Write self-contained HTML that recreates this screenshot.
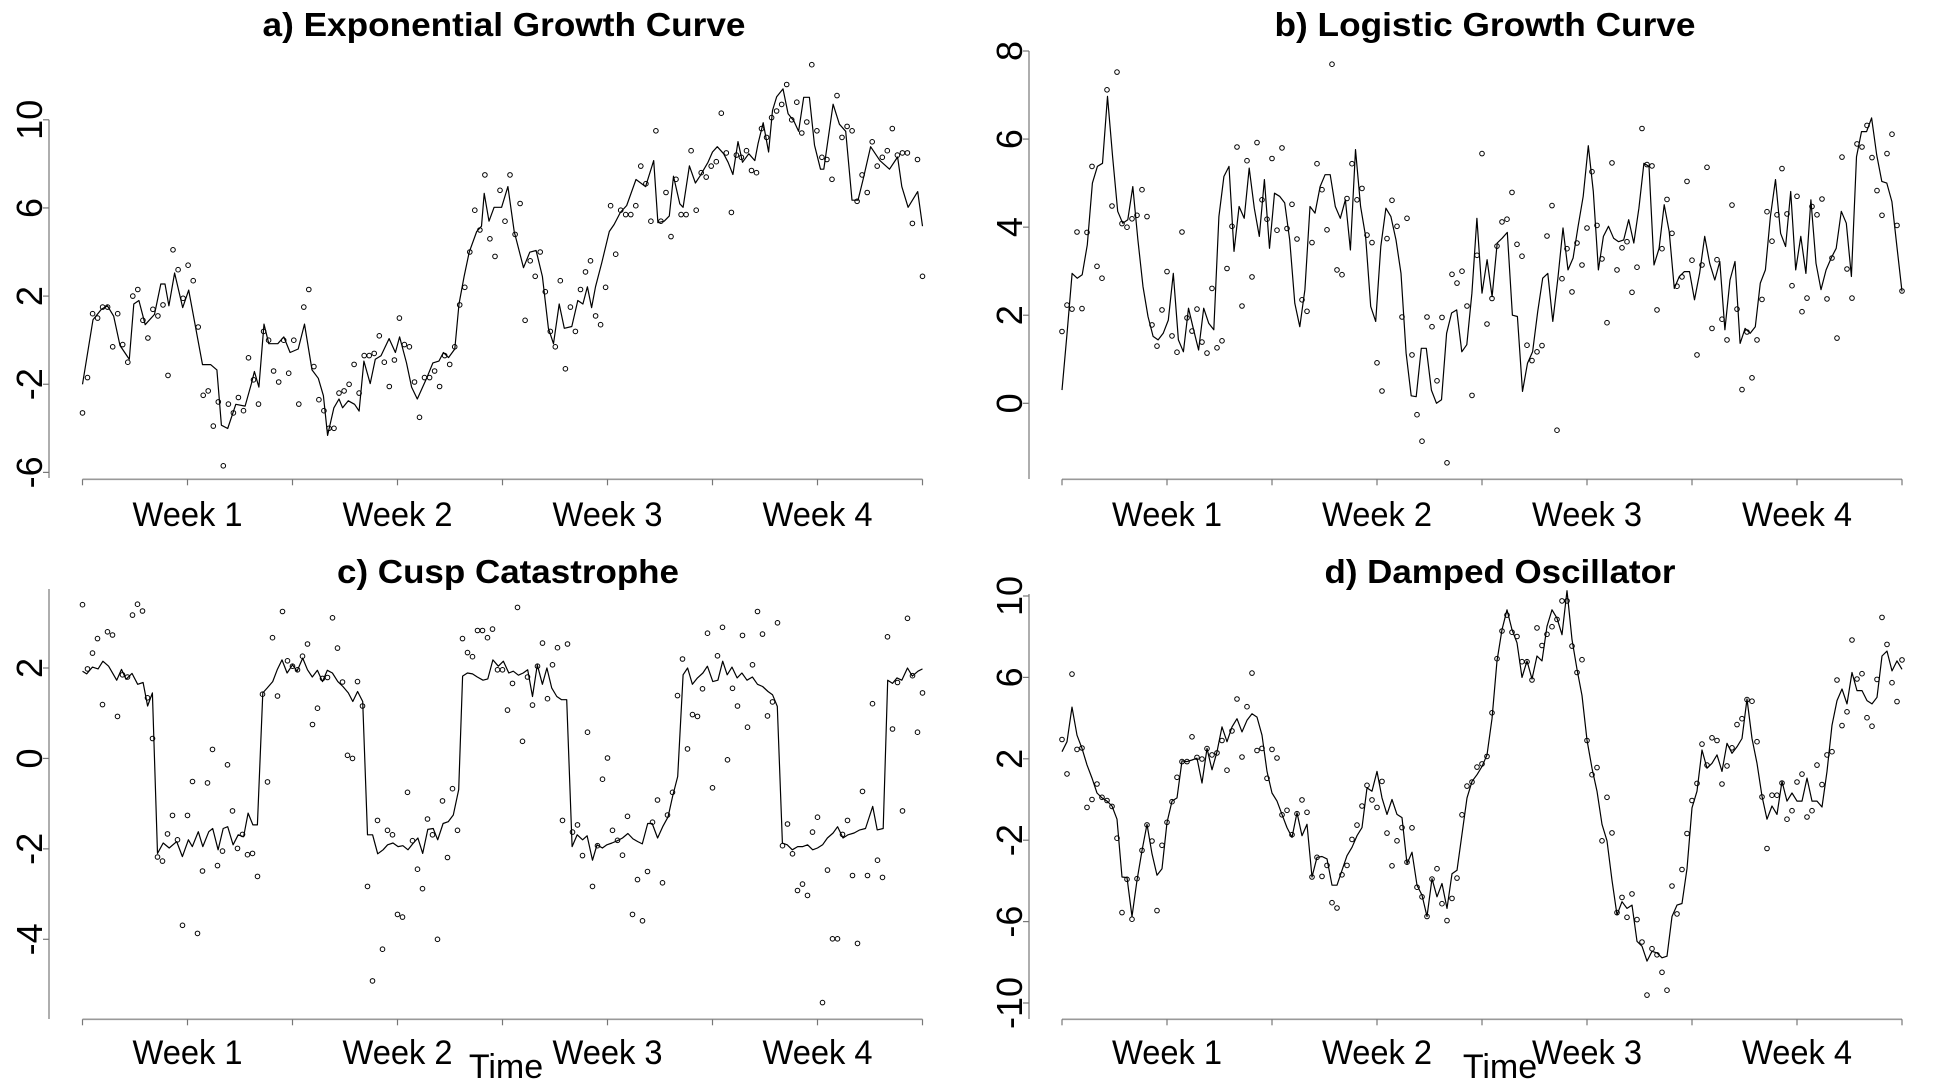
<!DOCTYPE html>
<html><head><meta charset="utf-8"><style>
html,body{margin:0;padding:0;background:#fff;}
svg{display:block;font-family:"Liberation Sans",Arial,sans-serif;}
</style></head><body>
<svg id="fig" width="1960" height="1080" viewBox="0 0 1960 1080" xmlns="http://www.w3.org/2000/svg"></svg>
<script>
const weekLabels = ["Week 1","Week 2","Week 3","Week 4"];
const weekDays = [3.5,10.5,17.5,24.5];
const totalDays = 28;

const aLineT = [0,0.35,0.63,0.83,1.04,1.25,1.56,1.71,1.88,2.09,2.40,2.61,2.75,2.88,3.07,3.34,3.54,4.0,4.27,4.48,4.63,4.84,5.11,5.42,5.63,5.73,5.88,6.05,6.21,6.51,6.71,6.92,7.19,7.40,7.65,7.86,8.03,8.17,8.38,8.55,8.67,8.86,9.07,9.22,9.38,9.59,9.76,9.95,10.22,10.43,10.57,10.80,10.97,11.16,11.47,11.68,11.88,12.03,12.20,12.41,12.55,12.72,12.89,13.14,13.30,13.39,13.55,13.72,13.97,14.18,14.39,14.70,14.91,15.12,15.33,15.53,15.70,15.89,16.06,16.31,16.51,16.68,16.83,16.97,17.10,17.31,17.56,17.72,17.93,18.14,18.45,18.77,19.04,19.18,19.39,19.56,19.70,19.91,20.02,20.23,20.43,20.58,20.85,21.0,21.16,21.37,21.52,21.68,21.85,22.0,22.21,22.41,22.52,22.69,22.87,23.0,23.14,23.35,23.52,23.71,23.87,24.04,24.23,24.40,24.60,24.71,25.02,25.23,25.44,25.65,25.85,26.02,26.27,26.58,26.90,27.17,27.31,27.52,27.84,28];
const aLineV = [-2.0,0.93,1.40,1.56,1.09,-0.24,-0.87,1.64,1.80,0.70,1.17,2.55,2.55,1.56,3.05,1.48,2.27,-1.11,-1.11,-1.35,-3.86,-4.01,-2.91,-2.99,-1.97,-1.42,-2.13,0.73,-0.16,-0.16,0.15,-0.56,-0.40,0.73,-1.35,-1.73,-2.52,-4.32,-3.07,-2.67,-3.07,-2.75,-2.91,-3.22,-0.95,-1.97,-0.87,-0.71,0.07,-0.56,0.15,-1.03,-2.13,-2.67,-1.73,-1.03,-0.95,-0.56,-0.79,-0.40,1.64,2.89,3.99,4.93,5.17,6.66,5.40,6.03,6.03,6.97,4.93,3.29,3.99,4.07,2.89,0.54,-0.16,1.64,0.54,0.62,1.80,1.64,2.42,1.48,2.42,3.52,4.93,5.25,5.80,6.11,7.29,6.97,8.15,5.33,5.40,5.64,7.44,6.19,6.03,7.91,7.13,7.44,8.07,8.54,8.78,8.46,8.07,7.52,9.01,8.07,8.46,8.15,8.93,9.87,8.54,10.42,11.05,11.40,10.27,9.95,9.48,11.02,11.02,8.85,7.76,7.76,10.71,9.80,9.48,6.35,6.35,7.29,8.78,8.15,7.76,8.31,6.97,6.03,6.74,5.17];
const aDots = [-3.3,-1.7,1.2,1.0,1.5,1.5,-0.3,1.2,-0.2,-1.0,2.0,2.3,0.9,0.1,1.4,1.1,1.6,-1.6,4.1,3.2,1.9,3.4,2.7,0.6,-2.5,-2.3,-3.9,-2.8,-5.7,-2.9,-3.3,-2.6,-3.2,-0.8,-1.8,-2.9,0.4,0.0,-1.4,-1.9,0.0,-1.5,0.0,-2.9,1.5,2.3,-1.2,-2.7,-3.2,-4.0,-4.0,-2.4,-2.3,-2.0,-1.1,-2.4,-0.7,-0.7,-0.6,0.2,-1.0,-2.1,-0.9,1.0,-0.2,-0.3,-1.9,-3.5,-1.7,-1.7,-1.4,-2.1,-0.7,-1.1,-0.3,1.6,2.4,4.0,5.9,5.0,7.5,4.6,3.8,6.8,5.4,7.5,4.8,6.2,0.9,3.6,2.9,4.0,2.2,0.4,-0.3,2.7,-1.3,1.5,0.4,2.3,3.1,3.6,1.1,0.7,2.4,6.1,3.9,5.9,5.7,5.7,6.1,7.9,7.1,5.4,9.5,5.4,6.7,4.7,7.3,5.7,5.7,8.6,5.9,7.6,7.4,7.9,8.1,10.3,8.5,5.8,8.4,8.3,8.6,7.7,7.6,9.6,9.2,10.1,10.4,10.7,11.6,10.0,10.8,9.4,9.9,12.5,9.5,8.3,8.2,7.3,11.1,9.2,9.7,9.5,6.3,7.5,6.7,9.0,7.9,8.3,8.6,9.6,8.4,8.5,8.5,5.3,8.2,2.9];

const bLine = [0.3,1.6,2.95,2.84,2.92,3.6,5.0,5.38,5.45,6.97,5.6,4.36,4.09,4.17,4.92,3.71,2.65,1.97,1.52,1.44,1.59,1.89,2.95,1.44,1.17,2.16,1.67,1.21,2.16,1.82,1.67,4.24,5.15,5.38,3.45,4.47,4.2,5.34,4.43,3.79,5.08,3.52,4.77,4.7,4.55,3.71,2.27,1.74,2.58,4.47,4.32,4.92,5.19,5.19,4.47,4.2,4.62,3.48,5.76,4.47,3.79,2.2,1.86,3.56,4.43,4.24,3.71,2.95,1.14,0.17,0.15,1.25,1.25,0.3,0.0,0.08,1.59,2.05,2.12,1.17,1.33,2.5,4.2,2.5,3.26,2.42,3.64,3.75,3.88,2.0,1.97,0.27,0.91,1.17,2.08,2.84,2.95,1.86,2.84,3.98,3.03,3.3,4.02,4.7,5.85,4.81,3.03,3.79,4.02,3.75,3.67,3.71,4.17,3.64,4.43,5.45,5.38,3.14,3.52,4.51,3.9,2.61,2.88,2.99,2.99,2.35,2.95,3.79,3.18,2.8,3.22,1.67,2.8,3.22,1.36,1.7,1.59,1.74,2.73,3.03,4.24,5.08,3.86,3.56,4.81,3.03,3.79,2.95,4.62,3.18,2.58,3.03,3.3,3.52,4.36,4.09,2.88,5.6,6.17,6.17,6.48,5.64,5.04,5.0,4.58,3.56,2.54];
const bDots = [1.63,2.23,2.14,3.89,2.15,3.88,5.38,3.11,2.84,7.12,4.48,7.52,4.08,4.0,4.19,4.27,4.85,4.24,1.78,1.3,2.12,2.99,1.53,1.16,3.89,1.94,1.64,2.14,1.39,1.14,2.61,1.26,1.42,3.06,4.02,5.82,2.21,5.51,2.87,5.92,4.62,4.18,5.56,3.93,5.8,3.97,4.52,3.73,2.35,2.09,3.65,5.44,4.85,3.94,7.7,3.03,2.92,4.65,5.44,4.62,4.88,3.82,3.65,0.92,0.28,3.74,4.61,4.02,1.96,4.2,1.1,-0.26,-0.86,1.96,1.74,0.51,1.95,-1.35,2.93,2.73,3.0,2.21,0.18,3.36,5.67,1.8,2.38,3.57,4.12,4.18,4.79,3.61,3.34,1.32,0.97,1.17,1.31,3.8,4.49,-0.61,2.83,3.51,2.53,3.64,3.14,3.98,5.26,4.04,3.28,1.83,5.46,3.03,3.53,3.67,2.52,3.09,6.24,5.42,5.39,2.12,3.51,4.63,3.86,2.66,2.87,5.04,3.25,1.1,3.14,5.36,1.7,3.26,1.91,1.44,4.5,2.14,0.31,1.62,0.58,1.44,2.36,4.35,3.68,4.28,5.33,4.3,2.67,4.7,2.08,2.39,4.47,4.28,4.64,2.37,3.3,1.48,5.59,3.05,2.39,5.89,5.82,6.31,5.58,4.83,4.27,5.67,6.11,4.04,2.55];

const cLineT = [0,0.14,0.33,0.52,0.68,0.87,1.14,1.30,1.45,1.65,1.84,2.02,2.17,2.33,2.50,2.69,2.89,3.14,3.33,3.53,3.66,3.86,4.01,4.21,4.34,4.52,4.69,4.84,5.02,5.19,5.37,5.52,5.68,5.83,6.01,6.16,6.34,6.49,6.65,6.82,7.0,7.15,7.34,7.50,7.66,7.83,8.0,8.16,8.33,8.51,8.68,8.86,9.01,9.17,9.34,9.50,9.67,9.84,10.02,10.17,10.35,10.52,10.68,10.85,11.03,11.18,11.34,11.51,11.69,11.84,12.02,12.19,12.36,12.54,12.67,12.83,13.0,13.16,13.35,13.51,13.68,13.86,14.03,14.21,14.36,14.53,14.69,14.84,15.0,15.16,15.33,15.48,15.64,15.81,15.97,16.14,16.32,16.49,16.67,16.82,17.0,17.15,17.33,17.48,17.65,17.83,18.0,18.18,18.35,18.51,18.66,18.84,18.99,19.17,19.34,19.52,19.67,19.84,20.02,20.17,20.33,20.50,20.68,20.83,21.01,21.18,21.34,21.49,21.65,21.82,21.98,22.15,22.33,22.50,22.67,22.85,23.0,23.16,23.33,23.49,23.66,23.84,24.01,24.17,24.34,24.50,24.67,24.83,25.02,25.17,25.35,25.52,25.72,25.91,26.10,26.34,26.49,26.69,26.84,27.0,27.15,27.31,27.50,27.66,27.85,28.0];
const cLineV = [1.93,1.87,2.02,1.98,2.15,2.04,1.73,1.97,1.75,1.88,1.64,1.68,1.16,1.45,-2.1,-1.87,-1.98,-1.84,-2.17,-1.80,-1.95,-1.62,-1.95,-1.62,-1.55,-2.02,-1.55,-1.51,-1.91,-1.69,-1.73,-1.21,-1.47,-1.47,1.45,1.56,1.70,1.96,2.18,1.89,2.07,1.93,2.22,1.96,1.80,1.95,1.70,1.95,1.89,1.70,1.59,1.45,1.26,1.48,1.26,-1.69,-1.69,-2.11,-2.02,-1.91,-1.87,-1.95,-1.93,-2.02,-1.87,-1.76,-2.1,-1.57,-1.55,-1.80,-1.44,-1.40,-1.25,-0.69,1.82,1.89,1.87,1.80,1.73,1.76,2.18,2.04,2.15,1.89,1.93,1.84,1.89,1.96,1.37,2.07,1.64,2.0,1.56,1.37,1.30,1.30,-1.95,-1.69,-1.80,-1.71,-2.25,-1.91,-1.98,-1.91,-1.87,-1.82,-1.76,-1.66,-1.78,-1.84,-1.89,-1.44,-1.44,-1.76,-1.51,-1.29,-0.84,-0.40,1.85,2.0,1.64,1.78,1.89,2.04,1.70,1.73,2.15,1.85,2.02,1.78,1.89,1.73,1.80,1.64,1.59,1.48,1.41,1.15,-1.87,-1.91,-2.02,-1.95,-1.95,-1.91,-2.02,-1.98,-1.91,-1.76,-1.65,-1.51,-1.76,-1.69,-1.65,-1.58,-1.55,-1.06,-1.58,-1.55,1.73,1.66,1.78,1.73,2.0,1.82,1.93,1.98];
const cDots = [3.40,1.98,2.33,2.65,1.19,2.80,2.73,0.93,1.85,1.80,3.17,3.41,3.26,1.34,0.44,-2.18,-2.27,-1.67,-1.26,-1.80,-3.69,-1.26,-0.51,-3.87,-2.49,-0.54,0.20,-2.37,-2.05,-0.14,-1.16,-1.99,-1.68,-2.13,-2.10,-2.61,1.42,-0.52,2.67,1.38,3.25,2.16,2.04,1.96,2.26,2.53,0.75,1.11,1.77,1.79,3.11,2.44,1.69,0.07,0.0,1.70,1.16,-2.83,-4.92,-1.37,-4.22,-1.59,-1.69,-3.45,-3.51,-0.75,-1.82,-2.45,-2.88,-1.34,-1.69,-4.0,-0.94,-2.19,-0.67,-1.59,2.65,2.34,2.25,2.83,2.83,2.67,2.86,1.96,1.96,1.07,1.66,3.34,0.38,1.80,1.18,2.04,2.55,1.32,2.07,2.45,-1.37,2.53,-1.63,-1.47,-2.15,0.58,-2.83,-1.93,-0.46,0.01,-1.59,-1.81,-2.14,-1.28,-3.45,-2.68,-3.59,-2.50,-1.41,-0.92,-2.75,-1.25,-0.75,1.39,2.20,0.21,0.97,0.93,1.54,2.77,-0.65,2.27,2.90,-0.03,1.55,1.16,2.72,0.69,2.07,3.25,2.75,0.94,1.25,3.0,-1.93,-1.45,-2.11,-2.92,-2.78,-3.03,-1.63,-1.30,-5.40,-2.47,-3.99,-3.99,-1.68,-1.37,-2.59,-4.09,-0.73,-2.59,1.21,-2.25,-2.63,2.69,0.65,1.68,-1.16,3.10,1.83,0.58,1.45];

const dLine = [2.35,2.84,4.54,3.16,2.51,1.70,1.05,0.32,0.08,-0.08,-0.32,-0.97,-3.81,-3.84,-5.75,-3.97,-2.51,-1.22,-2.67,-3.72,-3.40,-1.13,-0.08,0.08,1.90,1.86,1.94,2.03,0.81,2.51,1.46,2.35,3.57,2.84,3.57,3.97,3.32,3.89,4.21,4.05,3.16,1.38,0.32,-0.08,-0.73,-1.38,-1.86,-0.65,-1.78,-1.22,-3.81,-2.84,-2.80,-2.92,-4.21,-4.21,-3.48,-2.76,-2.35,-1.78,-1.38,0.57,0.41,1.38,0.08,-0.73,0.0,-0.73,-0.89,-3.16,-2.59,-4.21,-4.70,-5.75,-3.89,-4.78,-4.13,-5.35,-3.65,-3.48,-1.70,0.08,0.89,1.22,1.62,2.19,3.97,6.81,8.35,9.32,8.35,7.70,6.0,6.81,5.92,7.05,6.81,8.51,9.32,8.91,8.10,10.26,7.86,6.40,5.11,2.92,1.54,0.41,-1.22,-2.03,-3.97,-5.67,-5.02,-5.35,-5.19,-6.97,-7.21,-7.94,-7.46,-7.54,-7.78,-7.70,-5.75,-5.19,-5.11,-3.40,-0.41,0.41,2.43,1.54,1.78,2.19,1.38,2.76,2.27,2.59,3.0,4.94,3.0,1.78,0.16,-0.97,-0.32,-0.73,0.89,-0.08,0.32,-0.08,-0.08,1.05,-0.08,-0.08,-0.37,1.38,3.65,4.86,5.43,4.70,6.24,5.35,5.35,4.86,4.70,5.02,7.05,7.29,6.32,6.81,6.40];
const dDots = [2.95,1.26,6.16,2.46,2.53,-0.39,0.0,0.76,0.11,-0.05,-0.34,-1.90,-5.56,-3.92,-5.88,-3.89,-2.50,-1.25,-2.04,-5.46,-2.25,-1.12,-0.11,1.09,1.86,1.86,3.08,2.07,1.99,2.50,2.19,2.29,2.90,1.44,3.37,4.94,2.09,4.56,6.21,2.41,2.51,1.04,2.46,2.04,-0.75,-0.53,-1.73,-0.70,-0.02,-0.63,-3.81,-2.84,-3.78,-3.24,-5.07,-5.33,-3.70,-3.24,-1.96,-1.26,-0.32,0.70,-0.02,-0.39,0.89,-1.65,-3.26,-2.03,-1.38,-3.08,-1.39,-4.31,-4.78,-5.75,-3.91,-3.40,-5.12,-5.95,-4.86,-3.86,-0.75,0.66,0.86,1.59,1.75,2.12,4.26,6.92,8.28,9.06,8.22,8.01,6.77,6.77,5.87,8.43,7.57,8.12,8.49,8.85,9.76,9.76,7.54,6.24,6.87,2.90,1.22,1.57,-2.03,0.11,-1.64,-5.56,-4.81,-5.79,-4.64,-5.90,-7.0,-9.61,-7.33,-7.63,-8.49,-9.37,-4.25,-5.62,-3.44,-1.67,-0.05,0.79,2.72,1.69,3.03,2.90,0.76,1.65,2.54,3.68,3.97,4.91,4.83,2.84,0.13,-2.41,0.21,0.21,0.81,-0.97,-0.55,0.86,1.25,-0.86,-0.55,1.69,0.73,2.19,2.35,5.87,3.63,4.31,7.84,5.92,6.18,4.02,3.60,5.90,8.95,7.62,5.74,4.81,6.86];

const aTicks = [-6,-2,2,6,10];
const bTicks = [0,2,4,6,8];
const cTicks = [-4,-2,0,2];
const dTicks = [-10,-6,-2,2,6,10];

const NS = "http://www.w3.org/2000/svg";
const svg = document.getElementById("fig");
function mk(tag, attrs, parent){
  const e = document.createElementNS(NS, tag);
  for (const k in attrs) e.setAttribute(k, attrs[k]);
  (parent||svg).appendChild(e);
  return e;
}
function evenT(n){ const r=[]; for(let i=0;i<n;i++) r.push(i*totalDays/(n-1)); return r; }

function drawPanel(p){
  const g = mk("g", {});
  
  
  const xs = t => p.x0 + t/totalDays*(p.x1-p.x0);
  const ys = v => p.p0 + (v - p.v0)*(p.p1-p.p0)/(p.v1-p.v0);
  const title = mk("text", {x:p.titleX, y:p.titleY, "text-anchor":"middle", "font-size":33, "font-weight":"bold", textLength:p.titleW, lengthAdjust:"spacingAndGlyphs", fill:"#000"}, g);
  title.textContent = p.title;
  
  
  const xa = mk("line", {x1:p.x0, y1:p.axisY, x2:p.x1, y2:p.axisY, stroke:"#999", "stroke-width":1.6}, g);
  
  
  for (let i=0;i<=8;i++){
    const t = i*totalDays/8;
    const tk = mk("line", {x1:xs(t), y1:p.axisY, x2:xs(t), y2:p.axisY+6, stroke:"#777", "stroke-width":1.2}, g);
    
    
  }
  weekLabels.forEach((w,i)=>{
    const tx = mk("text", {x:xs(weekDays[i]), y:p.weekY, "text-anchor":"middle", "font-size":34, textLength:110, lengthAdjust:"spacingAndGlyphs", fill:"#000"}, g);
    tx.textContent = w;
    
    
  });
  const ya = mk("line", {x1:p.yAxisX, y1:p.yTop, x2:p.yAxisX, y2:p.yBot, stroke:"#999", "stroke-width":1.6}, g);
  
  
  p.ticks.forEach(v=>{
    const yy = ys(v);
    const tk = mk("line", {x1:p.yAxisX-6, y1:yy, x2:p.yAxisX, y2:yy, stroke:"#777", "stroke-width":1.2}, g);
    
    
    const lx = p.yAxisX - 7;
    const lb = mk("text", {x:lx, y:yy, transform:`rotate(-90 ${lx} ${yy})`, "text-anchor":"middle", "font-size":36, fill:"#000"}, g);
    lb.textContent = String(v);
    
    
  });
  const lt = p.lineT || evenT(p.lineV.length);
  const n = Math.min(lt.length, p.lineV.length);
  let d = "";
  for (let i=0;i<n;i++) d += (i?"L":"M") + xs(lt[i]).toFixed(1) + " " + ys(p.lineV[i]).toFixed(1);
  const path = mk("path", {d:d, fill:"none", stroke:"#000", "stroke-width":1.2, "stroke-linejoin":"round"}, g);
  
  
  const dt = evenT(p.dots.length);
  p.dots.forEach((v,i)=>{
    const c = mk("circle", {cx:xs(dt[i]).toFixed(1), cy:ys(v).toFixed(1), r:2.3, fill:"none", stroke:"#000", "stroke-width":1}, g);
    
    
  });
}

drawPanel({name:"panel-a-exponential", title:"a) Exponential Growth Curve", titleX:504, titleY:36, titleW:483,
  x0:82.5, x1:922.5, axisY:479.3, weekY:526, yAxisX:49, yTop:119.8, yBot:478,
  v0:10, p0:119.8, v1:-6, p1:472.4, ticks:aTicks, lineT:aLineT, lineV:aLineV, dots:aDots});
drawPanel({name:"panel-b-logistic", title:"b) Logistic Growth Curve", titleX:1485, titleY:36, titleW:421,
  x0:1062, x1:1902, axisY:479.3, weekY:526, yAxisX:1029, yTop:51, yBot:479,
  v0:8, p0:51, v1:0, p1:403.3, ticks:bTicks, lineV:bLine, dots:bDots});
drawPanel({name:"panel-c-cusp", title:"c) Cusp Catastrophe", titleX:508, titleY:583, titleW:342,
  x0:82.5, x1:922.5, axisY:1019.3, weekY:1064, yAxisX:49, yTop:589, yBot:1019,
  v0:2, p0:668, v1:-4, p1:939.3, ticks:cTicks, lineT:cLineT, lineV:cLineV, dots:cDots});
drawPanel({name:"panel-d-damped", title:"d) Damped Oscillator", titleX:1500, titleY:583, titleW:351,
  x0:1062, x1:1902, axisY:1019.3, weekY:1064, yAxisX:1029, yTop:594, yBot:1019,
  v0:10, p0:596, v1:-10, p1:1003, ticks:dTicks, lineV:dLine, dots:dDots});

[[506,"x-axis-title-left"],[1500,"x-axis-title-right"]].forEach(a=>{
  const t = mk("text", {x:a[0], y:1078, "text-anchor":"middle", "font-size":34, fill:"#000"});
  t.textContent = "Time";
  
  
});
</script>
</body></html>
